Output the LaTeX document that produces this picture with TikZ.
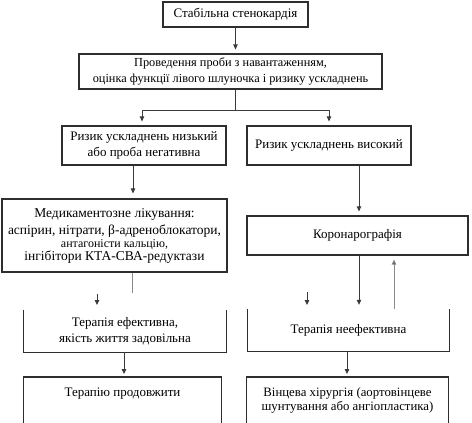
\documentclass[tikz,border=0pt]{standalone}
\usepackage{fontspec}
\setmainfont{Liberation Serif}
\usetikzlibrary{arrows.meta}
\definecolor{framec}{HTML}{2E2E2E}
\definecolor{linec}{HTML}{3A3A3A}
\definecolor{lightc}{HTML}{8A8A8A}
\tikzset{
  box/.style={draw=framec, line width=1.2pt, align=center, inner sep=0pt, font=\fontsize{13}{16}\selectfont},
  openbox/.style={align=center, inner sep=0pt, font=\fontsize{13}{16}\selectfont},
  frame/.style={draw=framec, line width=1.2pt},
  ln/.style={draw=linec, line width=0.8pt},
  lnlight/.style={draw=lightc, line width=0.9pt},
  arr/.style={draw=linec, line width=0.8pt, -{Triangle[length=5pt,width=4.5pt]}},
  arrlight/.style={draw=lightc, line width=0.9pt, -{Triangle[length=5pt,width=4.5pt,fill=framec]}},
}
\begin{document}
\begin{tikzpicture}[x=1pt,y=1pt]
\useasboundingbox[fill=white] (0,0) rectangle (472,-423);

% boxes
\node[box, minimum width=145pt, minimum height=25pt] (s1) at (235.5,-14.5) {Стабільна стенокардія};
\node[box, minimum width=303pt, minimum height=35pt, font=\fontsize{12.3}{16}\selectfont] (s2) at (230.5,-71.5) {Проведення проби з навантаженням,\\оцінка функції лівого шлуночка і ризику ускладнень};
\node[box, minimum width=164pt, minimum height=39pt] (low) at (144,-145.5) {Ризик ускладнень низький\\або проба негативна};
\node[box, minimum width=164pt, minimum height=39pt] (high) at (329,-145.5) {Ризик ускладнень високий};
\node[box, minimum width=225pt, minimum height=73pt, font=\fontsize{13.5}{16}\selectfont] (med) at (114.5,-235.5) {Медикаментозне лікування:\\[1pt]аспірин, нітрати, β-адреноблокатори,\\[-3pt]{\fontsize{12}{12}\selectfont антагоністи кальцію,}\\[-3pt]інгібітори КТА-СВА-редуктази};
\node[box, minimum width=221pt, minimum height=39pt] (koro) at (357.5,-235.5) {Коронарографія};

\node[openbox, minimum width=202pt, minimum height=42pt] (eff) at (125,-331) {Терапія ефективна,\\якість життя задовільна};
\draw[frame] (eff.north west) -- (eff.south west) -- (eff.south east) -- (eff.north east);
\node[openbox, minimum width=201pt, minimum height=42pt] (noneff) at (348.5,-330) {Терапія неефективна};
\draw[frame] (noneff.north west) -- (noneff.south west) -- (noneff.south east) -- (noneff.north east);

\node[openbox, anchor=north, minimum width=197pt, minimum height=46pt] (cont) at (122.5,-377) {Терапію продовжити\\[-4pt]\strut};
\draw[frame] (cont.south west) -- (cont.north west) -- (cont.north east) -- (cont.south east);
\node[openbox, anchor=north, minimum width=201pt, minimum height=46pt, font=\fontsize{12.8}{16}\selectfont] (surg) at (347.5,-377) {Вінцева хірургія (аортовінцеве\\[-2pt]шунтування або ангіопластика)};
\draw[frame] (surg.south west) -- (surg.north west) -- (surg.north east) -- (surg.south east);

% connectors
\draw[arr, shorten >=4pt] (s1.south) -- (s1.south |- s2.north);
\coordinate (br) at (235,-110);
\coordinate (brL) at (142,-110);
\coordinate (brR) at (329,-110);
\draw[ln] (s2.south -| br) -- (br);
\draw[ln] (brL) -- (brR);
\draw[arr, shorten >=4pt] (brL) -- (brL |- low.north);
\draw[arr, shorten >=4pt] (brR) -- (brR |- high.north);

\coordinate (lowx) at (133,0);
\draw[arr, shorten >=5pt] (low.south -| lowx) -- (lowx |- med.north);
\coordinate (highx) at (359,0);
\draw[arr, shorten >=4pt] (high.south -| highx) -- (highx |- koro.north);

% stubs below medication
\coordinate (medx) at (132,0);
\coordinate (medstub) at (132,-293);
\draw[lnlight] (med.south -| medx) -- (medstub);
\coordinate (effin) at (97,-294);
\draw[arr] (effin) -- ++(0,-11);

% below coronarography
\draw[arr, shorten >=4pt] (koro.south -| highx) -- (highx |- noneff.north);
\coordinate (noneffin) at (307,-292);
\draw[arr] (noneffin) -- ++(0,-13);
\coordinate (upx) at (394,0);
\draw[arrlight, shorten >=4pt] (noneff.north -| upx) -- (upx |- koro.south);

% to bottom boxes
\coordinate (effx) at (124,0);
\draw[arr, shorten >=3pt] (eff.south -| effx) -- (effx |- cont.north);
\coordinate (noneffx) at (347,0);
\draw[arr, shorten >=3pt] (noneff.south -| noneffx) -- (noneffx |- surg.north);
\end{tikzpicture}
\end{document}
